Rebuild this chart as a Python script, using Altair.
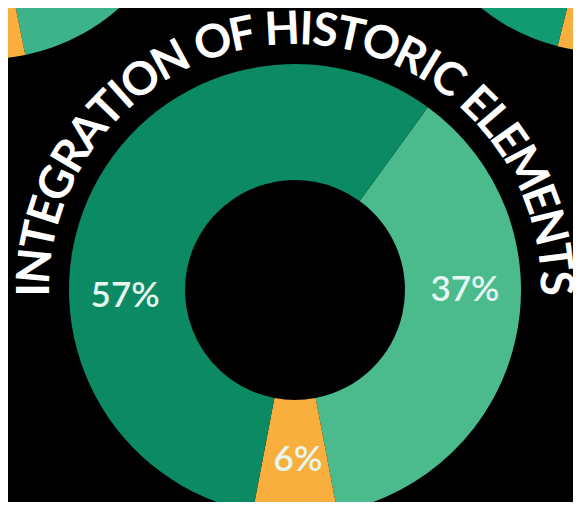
import math
import altair as alt
import pandas as pd

# ---------------- data ----------------
segments = ["Segment A", "Segment B", "Segment C"]   # clockwise from the start angle
values = [37, 6, 57]                                  # percent
title_text = "INTEGRATION OF HISTORIC ELEMENTS"

# ---------------- style / layout ----------------
seg_colors = ["#4bba8d", "#f8af3e", "#0b8a63"]
label_deg = [90, 179, 268]          # where each percentage label sits (deg, clockwise from top)
START_DEG = 36                      # first slice boundary
W, H = 565, 494
CX, CY = 287, 282                   # donut centre in plot coordinates
R_IN, R_OUT = 110, 226
R_TITLE = 260
TITLE_FROM, TITLE_TO = -90.0, 88.5  # angular centres of first / last character

# approximate advance widths (em) used to space the curved title
adv = {"A": .70, "C": .68, "E": .56, "F": .54, "G": .74, "H": .77, "I": .30,
       "L": .50, "M": .93, "N": .77, "O": .80, "R": .64, "S": .55, "T": .59, " ": .24}

df = pd.DataFrame({
    "segment": segments,
    "value": values,
    "order": list(range(len(values))),
    "label": [f"{v}%" for v in values],
    "label_deg": label_deg,
})

# curved title: one row per character, placed along an arc
cum, s = [], 0.0
for ch in title_text:
    w = adv.get(ch, .6)
    cum.append(s + w / 2)
    s += w
rows = []
for ch, c in zip(title_text, cum):
    if ch == " ":
        continue
    d = TITLE_FROM + (c - cum[0]) / (cum[-1] - cum[0]) * (TITLE_TO - TITLE_FROM)
    rows.append({"ch": ch, "deg": d % 360, "rot": d % 360})
df_title = pd.DataFrame(rows)

deg_scale = alt.Scale(domain=[0, 360], range=[0, 2 * math.pi])
start = math.radians(START_DEG)

ring = alt.Chart(df).mark_arc(innerRadius=R_IN, outerRadius=R_OUT).encode(
    theta=alt.Theta("value:Q", stack=True, scale=alt.Scale(range=[start, start + 2 * math.pi])),
    color=alt.Color("segment:N", scale=alt.Scale(domain=segments, range=seg_colors), legend=None),
    order=alt.Order("order:Q"),
    x=alt.value(CX),
    y=alt.value(CY),
)

labels = alt.Chart(df).mark_text(
    radius=170, font="Lato", fontWeight=600, fontSize=35, color="#e6f7ef",
    align="center", baseline="middle"
).encode(
    theta=alt.Theta("label_deg:Q", stack=False, scale=deg_scale),
    text="label:N",
    x=alt.value(CX),
    y=alt.value(CY),
)

title = alt.Chart(df_title).mark_text(
    radius=R_TITLE, font="Lato", fontWeight="bold", fontSize=46, color="white",
    align="center", baseline="middle"
).encode(
    theta=alt.Theta("deg:Q", stack=False, scale=deg_scale),
    angle=alt.Angle("rot:Q", scale=None),
    text="ch:N",
    x=alt.value(CX),
    y=alt.value(CY),
)

# fragments of the neighbouring donuts cut off at the top corners
nb_left = pd.DataFrame({"part": ["g", "o"], "a0": [100, 168.5], "a1": [168.5, 240]})
nb_right = pd.DataFrame({"part": ["o", "g"], "a0": [130, 194], "a1": [194, 260]})

left = alt.Chart(nb_left).mark_arc(innerRadius=95, outerRadius=202).encode(
    theta=alt.Theta("a0:Q", stack=False, scale=deg_scale),
    theta2="a1:Q",
    color=alt.Color("part:N", scale=alt.Scale(domain=["g", "o"], range=["#3db38b", "#f8af3e"]), legend=None),
    x=alt.value(-23),
    y=alt.value(-151),
)
right = alt.Chart(nb_right).mark_arc(innerRadius=95, outerRadius=196).encode(
    theta=alt.Theta("a0:Q", stack=False, scale=deg_scale),
    theta2="a1:Q",
    color=alt.Color("part:N", scale=alt.Scale(domain=["g", "o"], range=["#129a71", "#f8af3e"]), legend=None),
    x=alt.value(597),
    y=alt.value(-152),
)

chart = alt.layer(left, right, ring, labels, title).resolve_scale(
    theta="independent", color="independent"
).properties(
    width=W, height=H, background="black", padding=0, autosize="none"
).configure_view(stroke="transparent")

chart.save("out.html", embed_options={"renderer": "svg", "actions": False})
